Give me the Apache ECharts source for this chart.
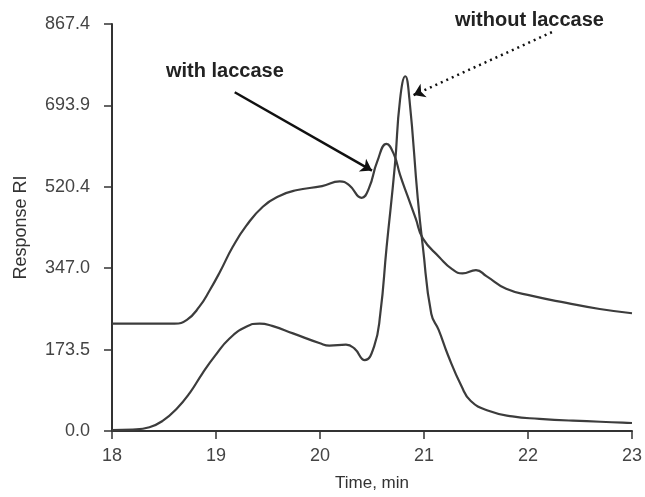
<!DOCTYPE html>
<html>
<head>
<meta charset="utf-8">
<script src="https://cdn.jsdelivr.net/npm/echarts@6/dist/echarts.min.js"></script>
<style>
  html, body { margin: 0; padding: 0; background: #fff; }
  #chart { width: 645px; height: 497px; }
</style>
</head>
<body>
<div id="chart"></div>
<script>
// upper trace: with laccase
var timeWith = [18.0, 18.60, 18.72, 18.84, 18.94, 19.04, 19.16, 19.29, 19.45, 19.61, 19.77, 20.02, 20.19, 20.28, 20.40, 20.47, 20.55, 20.64, 20.71, 20.77, 20.84, 20.92, 20.99, 21.15, 21.27, 21.37, 21.50, 21.60, 21.79, 22.04, 22.37, 22.69, 23.0];
var valWith = [229, 229, 237, 265, 300, 340, 392, 437, 478, 501, 513, 522, 532, 524, 497, 517, 574, 612, 590, 546, 502, 453, 410, 370, 345, 336, 343, 330, 303, 288, 273, 260, 251];

// lower trace: without laccase
var timeWithout = [18.0, 18.20, 18.36, 18.49, 18.62, 18.75, 18.87, 18.99, 19.13, 19.29, 19.42, 19.54, 19.74, 20.00, 20.09, 20.25, 20.33, 20.43, 20.52, 20.58, 20.64, 20.72, 20.77, 20.82, 20.86, 20.94, 20.99, 21.07, 21.14, 21.23, 21.36, 21.45, 21.62, 21.85, 22.11, 22.43, 22.91, 23.0];
var valWithout = [2, 3, 8, 22, 47, 82, 123, 160, 197, 222, 229, 224, 208, 187, 182, 184, 176, 151, 180, 250, 391, 566, 707, 756, 707, 496, 391, 250, 216, 162, 96, 64, 43, 31, 26, 22, 18, 17];

var yMax = 867.4;
var yStep = 173.48;

function pairs(xs, ys) {
  return xs.map(function (x, i) { return [x, ys[i]]; });
}

var chart = echarts.init(document.getElementById('chart'));
var font = "'Liberation Sans', Arial, sans-serif";
var lineColor = '#3c3c3c';

var option = {
  animation: false,
  textStyle: { fontFamily: font },
  grid: { left: 112, right: 13, top: 24, bottom: 61 },
  xAxis: {
    type: 'value',
    min: 18,
    max: 23,
    interval: 1,
    name: 'Time, min',
    nameLocation: 'middle',
    nameGap: 44,
    nameTextStyle: { fontSize: 17, color: '#333', fontFamily: font },
    axisLine: { lineStyle: { color: '#333', width: 2 } },
    axisTick: { show: true, inside: false, length: 8, lineStyle: { color: '#333', width: 1.5 } },
    axisLabel: { fontSize: 18, color: '#444', margin: 16, fontFamily: font },
    splitLine: { show: false }
  },
  yAxis: {
    type: 'value',
    min: 0,
    max: yMax,
    interval: yStep,
    name: 'Response RI',
    nameLocation: 'middle',
    nameRotate: 90,
    nameGap: 82,
    nameTextStyle: { fontSize: 18, color: '#333', fontFamily: font },
    axisLine: { show: true, lineStyle: { color: '#333', width: 2 } },
    axisTick: { show: true, inside: false, length: 8, lineStyle: { color: '#333', width: 1.5 } },
    axisLabel: {
      fontSize: 18, color: '#444', margin: 22, fontFamily: font,
      formatter: function (v) { return v.toFixed(1); }
    },
    splitLine: { show: false }
  },
  series: [
    {
      name: 'with laccase',
      type: 'line',
      data: pairs(timeWith, valWith),
      showSymbol: false,
      smooth: 0.5,
      lineStyle: { color: lineColor, width: 2.2 },
      markLine: {
        silent: true,
        symbol: ['none', 'arrow'],
        symbolSize: 11,
        label: { show: false },
        lineStyle: { color: '#111', width: 2.5, type: 'solid' },
        data: [[{ coord: [19.18, 722] }, { coord: [20.5, 555] }]]
      }
    },
    {
      name: 'without laccase',
      type: 'line',
      data: pairs(timeWithout, valWithout),
      showSymbol: false,
      smooth: 0.5,
      lineStyle: { color: lineColor, width: 2.2 },
      markLine: {
        silent: true,
        symbol: ['none', 'arrow'],
        symbolSize: 11,
        label: { show: false },
        lineStyle: { color: '#111', width: 2.5, type: [2, 4] },
        data: [[{ coord: [22.23, 850] }, { coord: [20.9, 716] }]]
      }
    }
  ],
  graphic: [
    {
      type: 'text', left: 166, top: 61,
      style: { text: 'with laccase', font: 'bold 20px ' + font, fill: '#222' }
    },
    {
      type: 'text', left: 455, top: 10,
      style: { text: 'without laccase', font: 'bold 20px ' + font, fill: '#222' }
    }
  ]
};

chart.setOption(option);
</script>
</body>
</html>
